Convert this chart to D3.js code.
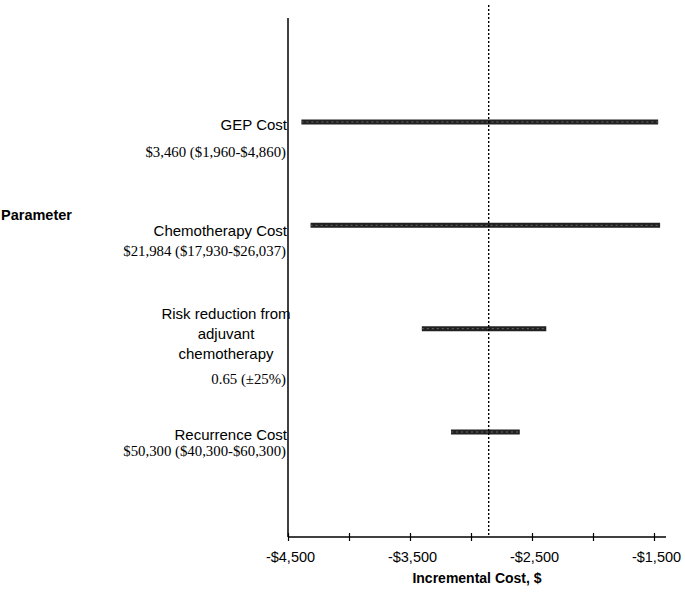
<!DOCTYPE html>
<html>
<head>
<meta charset="utf-8">
<script src="https://cdn.jsdelivr.net/npm/d3@7"></script>
<style>
  body { margin: 0; background: #fff; }
  svg { display: block; }
</style>
</head>
<body>
<div id="chart"></div>
<script>
// tornado chart: one-way sensitivity on incremental cost
const params = ["GEP Cost", "Chemotherapy Cost", "Risk reduction from adjuvant chemotherapy", "Recurrence Cost"];
const titleLines = [["GEP Cost"], ["Chemotherapy Cost"], ["Risk reduction from", "adjuvant", "chemotherapy"], ["Recurrence Cost"]];
const rangeLabels = ["$3,460 ($1,960-$4,860)", "$21,984 ($17,930-$26,037)", "0.65 (\u00b125%)", "$50,300 ($40,300-$60,300)"];
const lows = [-4390, -4315, -3403, -3164];
const highs = [-1466, -1450, -2383, -2600];
const baseCase = -2855;
const tickValues = [-4500, -4000, -3500, -3000, -2500, -2000, -1500];
const tickLabels = ["-$4,500", "", "-$3,500", "", "-$2,500", "", "-$1,500"];

const W = 685, H = 594;
const axisY = 537, axisTop = 18;

const svg = d3.select("#chart").append("svg")
  .attr("width", W)
  .attr("height", H);

const x = d3.scaleLinear().domain([-4500, -1500]).range([288, 654]);
const y = d3.scalePoint().domain(params).range([122, 432]);

// label layout per row (offsets from bar centre)
const layout = [
  { title: [8], sub: 35, center: false },
  { title: [11], sub: 31, center: false },
  { title: [-10, 10, 30], sub: 55, center: true },
  { title: [8], sub: 24, center: false }
];

// axes
svg.append("line")
  .attr("x1", 288).attr("x2", 288)
  .attr("y1", axisTop).attr("y2", axisY)
  .attr("stroke", "#000").attr("stroke-width", 1.5);

svg.append("line")
  .attr("x1", 288).attr("x2", 666)
  .attr("y1", axisY).attr("y2", axisY)
  .attr("stroke", "#000").attr("stroke-width", 1.5);

const xAxis = svg.append("g")
  .attr("transform", "translate(0," + axisY + ")")
  .call(d3.axisBottom(x).tickValues(tickValues).tickSize(4)
    .tickFormat((d, i) => tickLabels[i]));
xAxis.select(".domain").remove();
xAxis.selectAll(".tick line").attr("y1", -4).attr("stroke", "#000").attr("stroke-width", 1.2);
xAxis.selectAll(".tick text")
  .attr("x", 2)
  .attr("y", 15)
  .attr("dy", "0.71em")
  .style("font-family", "Liberation Sans, Arial, sans-serif")
  .style("font-size", "14.5px")
  .attr("fill", "#000");

// bars
svg.selectAll(".bar")
  .data(params)
  .enter()
  .append("line")
  .attr("class", "bar")
  .attr("x1", (d, i) => x(lows[i]))
  .attr("x2", (d, i) => x(highs[i]))
  .attr("y1", d => y(d))
  .attr("y2", d => y(d))
  .attr("stroke", "#222")
  .attr("stroke-width", 5);

svg.selectAll(".bar-tex")
  .data(params)
  .enter()
  .append("line")
  .attr("class", "bar-tex")
  .attr("x1", (d, i) => x(lows[i]))
  .attr("x2", (d, i) => x(highs[i]))
  .attr("y1", d => y(d))
  .attr("y2", d => y(d))
  .attr("stroke", "#666")
  .attr("stroke-width", 1)
  .attr("stroke-dasharray", "2,3");

// base case line
svg.append("line")
  .attr("x1", x(baseCase)).attr("x2", x(baseCase))
  .attr("y1", 5).attr("y2", axisY)
  .attr("stroke", "#000")
  .attr("stroke-width", 1.4)
  .attr("stroke-dasharray", "2,2");

// parameter labels
params.forEach((p, i) => {
  const cy = y(p);
  const lay = layout[i];
  titleLines[i].forEach((t, j) => {
    svg.append("text")
      .attr("x", lay.center ? 226 : 287)
      .attr("y", cy + lay.title[j])
      .attr("text-anchor", lay.center ? "middle" : "end")
      .style("font-family", "Liberation Sans, Arial, sans-serif")
      .style("font-size", "15px")
      .text(t);
  });
  svg.append("text")
    .attr("x", 286)
    .attr("y", cy + lay.sub)
    .attr("text-anchor", "end")
    .style("font-family", "Liberation Serif, Times New Roman, serif")
    .style("font-size", "14.8px")
    .text(rangeLabels[i]);
});

svg.append("text")
  .attr("x", 1)
  .attr("y", 220)
  .style("font-family", "Liberation Sans, Arial, sans-serif")
  .style("font-size", "14.5px")
  .style("font-weight", "bold")
  .text("Parameter");

svg.append("text")
  .attr("x", 477)
  .attr("y", 583)
  .attr("text-anchor", "middle")
  .style("font-family", "Liberation Sans, Arial, sans-serif")
  .style("font-size", "14px")
  .style("font-weight", "bold")
  .text("Incremental Cost, $");
</script>
</body>
</html>
